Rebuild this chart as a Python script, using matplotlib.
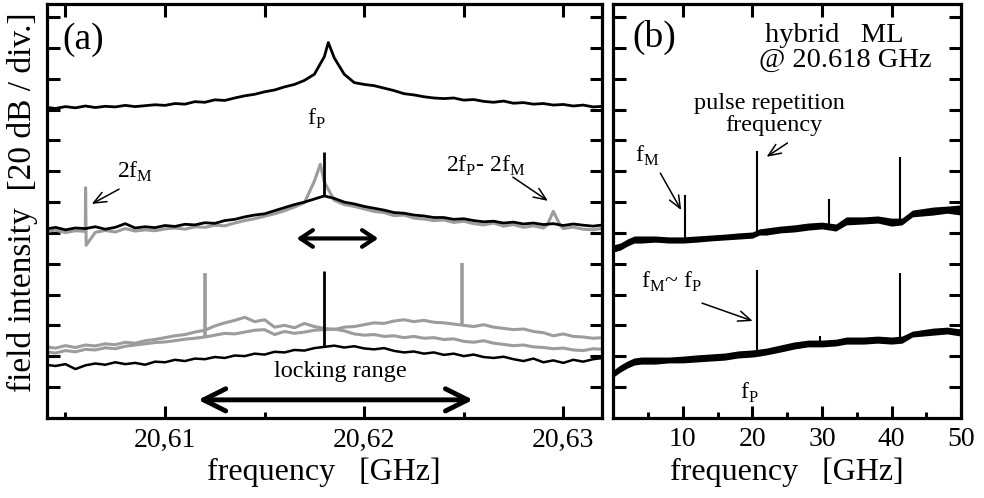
import matplotlib
matplotlib.use("Agg")
import matplotlib.pyplot as plt
import numpy as np

plt.rcParams['font.family'] = ['Liberation Serif', 'DejaVu Serif']
plt.rcParams['mathtext.fontset'] = 'custom'
plt.rcParams['mathtext.rm'] = 'Liberation Serif'

# ---------------- panel (a): spectra around 20.618 GHz ----------------
# analyser sweep, 57 points from 20.604 to 20.632 GHz (0.5 MHz steps)
freq_a = np.linspace(20.604, 20.632, 57)

# free running (top trace), y in divisions
top_black = [10.08, 10.04, 10.10, 10.06, 10.12, 10.07, 10.11, 10.09, 10.14, 10.10,
             10.13, 10.16, 10.14, 10.20, 10.18, 10.26, 10.24, 10.32, 10.30, 10.38,
             10.45, 10.50, 10.58, 10.64, 10.74, 10.82, 10.95, 11.15, 11.72, 11.68,
             11.15, 10.88, 10.82, 10.78, 10.70, 10.62, 10.52, 10.48, 10.42, 10.38,
             10.36, 10.38, 10.31, 10.33, 10.27, 10.24, 10.28, 10.21, 10.23, 10.18,
             10.20, 10.15, 10.17, 10.12, 10.15, 10.09, 10.11]
top_peak_f = [20.6182]
top_peak_v = [12.18]

# middle group
mid_black = [6.12, 6.18, 6.10, 6.16, 6.14, 6.20, 6.12, 6.18, 6.30, 6.16,
             6.20, 6.17, 6.24, 6.21, 6.28, 6.26, 6.33, 6.31, 6.40, 6.44,
             6.52, 6.58, 6.62, 6.72, 6.82, 6.92, 7.00, 7.10, 7.20, 7.12,
             7.00, 6.94, 6.86, 6.80, 6.74, 6.66, 6.64, 6.58, 6.55, 6.50,
             6.50, 6.44, 6.46, 6.40, 6.36, 6.38, 6.32, 6.35, 6.29, 6.32,
             6.27, 6.30, 6.24, 6.29, 6.25, 6.22, 6.26]
mid_gray = [6.04, 6.09, 6.01, 6.07, 6.05, 6.02, 6.08, 6.03, 6.14, 6.06,
            6.10, 6.07, 6.13, 6.16, 6.12, 6.20, 6.18, 6.25, 6.23, 6.32,
            6.40, 6.46, 6.54, 6.62, 6.72, 6.84, 6.98, 7.68, 7.65, 7.06,
            6.92, 6.86, 6.78, 6.70, 6.66, 6.56, 6.58, 6.48, 6.45, 6.40,
            6.42, 6.34, 6.38, 6.30, 6.26, 6.32, 6.22, 6.27, 6.18, 6.23,
            6.16, 6.70, 6.14, 6.19, 6.12, 6.10, 6.15]
# 2fM line, fP peak and 2fP-2fM bump of the gray trace
mid_gray_feat_f = [20.60601, 20.60604, 20.6178, 20.6292, 20.62985]
mid_gray_feat_v = [7.47, 5.60, 8.23, 6.26, 6.24]

# bottom group
low_black = [1.72, 1.68, 1.74, 1.58, 1.70, 1.76, 1.72, 1.80, 1.74, 1.78,
             1.72, 1.82, 1.80, 1.88, 1.84, 1.92, 1.90, 1.97, 1.94, 2.02,
             2.00, 2.08, 2.05, 2.14, 2.12, 2.20, 2.18, 2.26, 2.30, 2.34,
             2.28, 2.32, 2.25, 2.22, 2.26, 2.17, 2.12, 2.15, 2.08, 2.12,
             2.04, 2.08, 2.00, 2.05, 1.97, 1.94, 1.98, 1.90, 1.84, 1.92,
             1.80, 1.86, 1.78, 1.88, 1.82, 1.90, 1.94]
low_gray_upper = [2.30, 2.26, 2.34, 2.28, 2.36, 2.33, 2.40, 2.37, 2.45, 2.42,
                  2.50, 2.54, 2.60, 2.66, 2.70, 2.78, 2.84, 2.98, 3.08, 3.16,
                  3.26, 3.12, 3.18, 2.94, 3.00, 2.92, 3.06, 2.96, 2.90, 2.86,
                  2.94, 2.96, 3.02, 3.08, 3.06, 3.14, 3.18, 3.12, 3.16, 3.10,
                  3.08, 3.04, 3.00, 2.96, 3.02, 2.94, 2.90, 2.86, 2.88, 2.80,
                  2.76, 2.66, 2.72, 2.64, 2.62, 2.58, 2.60]
low_gray_lower = [2.14, 2.10, 2.18, 2.14, 2.22, 2.20, 2.27, 2.24, 2.32, 2.36,
                  2.40, 2.44, 2.46, 2.50, 2.55, 2.58, 2.62, 2.68, 2.74, 2.72,
                  2.78, 2.84, 2.86, 2.70, 2.80, 2.74, 2.78, 2.84, 2.86, 2.88,
                  2.82, 2.72, 2.68, 2.70, 2.64, 2.66, 2.60, 2.64, 2.58, 2.60,
                  2.54, 2.56, 2.48, 2.45, 2.50, 2.42, 2.38, 2.34, 2.36, 2.30,
                  2.28, 2.24, 2.26, 2.20, 2.18, 2.24, 2.22]

# narrow lines (freq, foot, top)
black_spike_f = [20.6180, 20.6180]
black_spike_lo = [7.20, 2.30]
black_spike_hi = [8.64, 4.77]
gray_spike_f = [20.6120, 20.6249]
gray_spike_lo = [2.62, 3.00]
gray_spike_hi = [4.71, 5.03]

# ---------------- panel (b): wide span, 0-50 GHz ----------------
freq_b = [0, 1, 2, 3, 4, 6, 8, 10, 12, 14, 16, 18, 20, 21, 22, 24, 26, 28,
          30, 32, 33.5, 36, 38, 40, 41.5, 43, 46, 48, 50]
# noise band of each trace (lower / upper edge)
b_up_lo = [5.38, 5.44, 5.57, 5.67, 5.67, 5.70, 5.67, 5.67, 5.70, 5.74, 5.77, 5.80,
           5.83, 5.93, 5.93, 6.00, 6.03, 6.09, 6.13, 6.06, 6.26, 6.29, 6.32, 6.22,
           6.26, 6.52, 6.58, 6.64, 6.58]
b_up_hi = [5.61, 5.67, 5.80, 5.90, 5.90, 5.90, 5.87, 5.87, 5.90, 5.93, 5.96, 6.00,
           6.03, 6.13, 6.16, 6.22, 6.26, 6.32, 6.35, 6.29, 6.52, 6.52, 6.55, 6.48,
           6.48, 6.74, 6.84, 6.87, 6.91]
b_low_lo = [1.32, 1.48, 1.61, 1.71, 1.74, 1.74, 1.78, 1.78, 1.81, 1.84, 1.87, 1.94,
            1.97, 2.00, 2.04, 2.13, 2.23, 2.30, 2.30, 2.33, 2.39, 2.39, 2.42, 2.39,
            2.42, 2.62, 2.68, 2.72, 2.65]
b_low_hi = [1.55, 1.71, 1.84, 1.94, 1.97, 1.97, 1.97, 2.00, 2.04, 2.07, 2.10, 2.17,
            2.20, 2.23, 2.26, 2.36, 2.46, 2.52, 2.52, 2.55, 2.62, 2.62, 2.65, 2.62,
            2.65, 2.81, 2.91, 2.94, 2.88]
b_up_spike_f = [10.3, 20.6, 31.0, 41.2]
b_up_spike_lo = [5.78, 6.05, 6.20, 6.35]
b_up_spike_hi = [7.23, 8.67, 7.10, 8.45]
b_low_spike_f = [20.6, 29.7, 41.2]
b_low_spike_lo = [2.10, 2.45, 2.55]
b_low_spike_hi = [4.80, 2.65, 4.70]

GRAY = '#9c9c9c'
YMAX = 13.43


def merge(f, v, extra_f, extra_v):
    # put extra measured points into a trace, keeping frequency order
    x = np.concatenate([np.asarray(f), extra_f])
    y = np.concatenate([np.asarray(v), extra_v])
    o = np.argsort(x)
    return x[o], y[o]


def style_axes(ax):
    for s in ax.spines.values():
        s.set_linewidth(2.3)
    ax.set_ylim(0, YMAX)
    ax.set_yticks(range(1, 14))
    ax.set_yticklabels([])
    ax.tick_params(axis='y', which='both', direction='in', left=True, right=True,
                   length=9, width=2.2)
    ax.tick_params(axis='x', which='both', direction='in', top=False, width=2.2,
                   labelsize=20, pad=7)
    ax.tick_params(axis='x', which='major', length=9)
    ax.tick_params(axis='x', which='minor', length=4)


def thin_arrow(ax, xy, xytext):
    ax.annotate('', xy=xy, xytext=xytext,
                arrowprops=dict(arrowstyle='->,head_length=0.6,head_width=0.25',
                                lw=1.1, color='black', mutation_scale=15,
                                shrinkA=0, shrinkB=0))


fig = plt.figure(figsize=(9.84, 4.98), dpi=100)
ax_a = fig.add_axes([0.0475, 0.1612, 0.5640, 0.8307])
ax_b = fig.add_axes([0.6233, 0.1612, 0.3534, 0.8307])

# ---- panel (a) ----
x, y = merge(freq_a, mid_gray, mid_gray_feat_f, mid_gray_feat_v)
ax_a.plot(x, y, color=GRAY, lw=2.2)
ax_a.plot(freq_a, low_gray_upper, color=GRAY, lw=2.2)
ax_a.plot(freq_a, low_gray_lower, color=GRAY, lw=2.2)
ax_a.vlines(gray_spike_f, gray_spike_lo, gray_spike_hi, color=GRAY, lw=2.6)

x, y = merge(freq_a, top_black, top_peak_f, top_peak_v)
ax_a.plot(x, y, color='black', lw=2.0)
ax_a.plot(freq_a, mid_black, color='black', lw=2.0)
ax_a.plot(freq_a, low_black, color='black', lw=1.8)
ax_a.vlines(black_spike_f, black_spike_lo, black_spike_hi, color='black', lw=2.0)

style_axes(ax_a)
ax_a.set_xlim(20.60406, 20.63193)
ax_a.set_xticks([20.61, 20.62, 20.63])
ax_a.set_xticklabels(['20,61', '20,62', '20,63'])
ax_a.set_xticks([20.605, 20.615, 20.625], minor=True)
top_a = ax_a.secondary_xaxis('top')
top_a.set_xticks([20.605, 20.61, 20.615, 20.62, 20.625, 20.63])
top_a.tick_params(direction='in', length=9, width=2.2, labeltop=False)

ax_a.set_xlabel('frequency   [GHz]', fontsize=23)
ax_a.xaxis.set_label_coords(0.5, -0.095)

# double arrows
ax_a.annotate('', xy=(20.62071, 5.82), xytext=(20.61661, 5.82),
              arrowprops=dict(arrowstyle='<->,head_length=0.45,head_width=0.3',
                              lw=3.0, color='black', mutation_scale=20,
                              shrinkA=0, shrinkB=0))
ax_a.annotate('', xy=(20.62547, 0.58), xytext=(20.61166, 0.58),
              arrowprops=dict(arrowstyle='<->,head_length=0.8,head_width=0.4',
                              lw=3.5, color='black', mutation_scale=20,
                              shrinkA=0, shrinkB=0))
ax_a.text(20.61879, 1.5, 'locking range', fontsize=17.5, ha='center', va='center')

ax_a.text(20.60483, 12.26, '(a)', fontsize=27, ha='left', va='center')
ax_a.text(20.61758, 9.69, r'f$_\mathregular{P}$', fontsize=17, ha='center', va='center')
ax_a.text(20.60849, 7.97, r'2f$_\mathregular{M}$', fontsize=17, ha='center', va='center')
thin_arrow(ax_a, (20.60632, 6.94), (20.60769, 7.42))
ax_a.text(20.62612, 8.17, r'2f$_\mathregular{P}$- 2f$_\mathregular{M}$', fontsize=17,
          ha='center', va='center')
thin_arrow(ax_a, (20.62923, 7.04), (20.62747, 7.81))

# ---- panel (b) ----
ax_b.fill_between(freq_b, b_up_lo, b_up_hi, color='black', lw=0)
ax_b.fill_between(freq_b, b_low_lo, b_low_hi, color='black', lw=0)
ax_b.vlines(b_up_spike_f, b_up_spike_lo, b_up_spike_hi, color='black', lw=1.5)
ax_b.vlines(b_low_spike_f, b_low_spike_lo, b_low_spike_hi, color='black', lw=1.5)

style_axes(ax_b)
ax_b.set_xlim(0, 50)
ax_b.set_xticks([10, 20, 30, 40, 50])
ax_b.set_xticks([5, 15, 25, 35, 45], minor=True)
top_b = ax_b.secondary_xaxis('top')
top_b.set_xticks([10, 20, 30, 40])
top_b.tick_params(direction='in', length=9, width=2.2, labeltop=False)
ax_b.set_xlabel('frequency   [GHz]', fontsize=23)
ax_b.xaxis.set_label_coords(0.5, -0.095)

ax_b.text(2.77, 12.34, '(b)', fontsize=27, ha='left', va='center')
ax_b.text(31.76, 12.4, 'hybrid   ML', fontsize=20.5, ha='center', va='center')
ax_b.text(33.3, 11.6, '@ 20.618 GHz', fontsize=20.5, ha='center', va='center')
ax_b.text(22.5, 10.2, 'pulse repetition', fontsize=17.5, ha='center', va='center')
ax_b.text(23.04, 9.5, 'frequency', fontsize=17.5, ha='center', va='center')
thin_arrow(ax_b, (22.04, 8.47), (25.04, 8.92))
ax_b.text(4.83, 8.5, r'f$_\mathregular{M}$', fontsize=17, ha='center', va='center')
thin_arrow(ax_b, (9.76, 6.74), (6.76, 7.94))
ax_b.text(8.33, 4.4, r'f$_\mathregular{M}$~ f$_\mathregular{P}$', fontsize=17,
          ha='center', va='center')
thin_arrow(ax_b, (20.04, 3.14), (12.76, 3.72))
ax_b.text(19.54, 0.8, r'f$_\mathregular{P}$', fontsize=17, ha='center', va='center')

fig.text(0.0224, 0.593, 'field intensity  [20 dB / div.]', fontsize=24,
         rotation=90, ha='center', va='center')

fig.savefig('out.png', dpi=100)
